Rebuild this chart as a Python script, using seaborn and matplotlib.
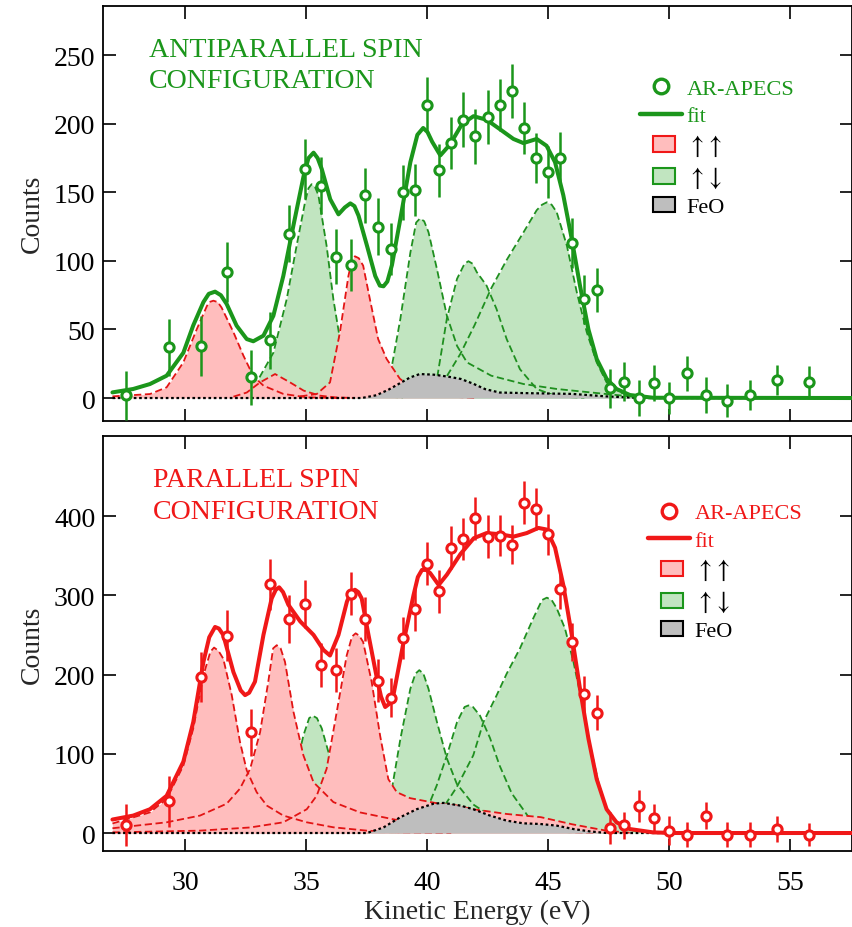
import matplotlib.pyplot as plt
import matplotlib.patches as mpatches
from matplotlib.lines import Line2D
from matplotlib.legend_handler import HandlerPatch
import seaborn as sns

# AR-APECS spectra, antiparallel (top) and parallel (bottom) spin configuration
sns.set_theme(style='ticks')
plt.rcParams['font.family'] = ['Liberation Serif', 'DejaVu Serif']
plt.rcParams['mathtext.fontset'] = 'stix'

# measured points (same energies in both panels)
energy = [27.56, 29.34, 30.66, 31.72, 32.71, 33.50, 34.28, 34.97, 35.62, 36.25,
          36.85, 37.44, 37.98, 38.51, 39.00, 39.52, 40.01, 40.50, 40.98, 41.49,
          42.00, 42.51, 43.00, 43.50, 44.00, 44.49, 44.99, 45.50, 45.99, 46.49,
          47.01, 47.56, 48.13, 48.75, 49.37, 50.00, 50.76, 51.52, 52.38, 53.33,
          54.48, 55.79]
anti_counts = [2, 37, 38, 92, 15, 42, 120, 167, 155, 103,
               97, 148, 125, 109, 150, 152, 214, 166, 186, 203,
               191, 205, 214, 224, 197, 175, 165, 175, 113, 72,
               79, 7, 12, 0, 11, 0, 18, 2, -2, 2,
               13, 12]
anti_err = [18, 21, 22, 22, 20, 21, 21, 22, 21, 20,
            19, 20, 21, 19, 20, 19, 20, 19, 19, 20,
            20, 20, 19, 20, 19, 18, 19, 19, 18, 18,
            16, 14, 14, 13, 13, 12, 13, 13, 12, 11,
            11, 11]
para_counts = [10, 40, 197, 249, 127, 314, 270, 289, 212, 206,
               302, 270, 192, 171, 246, 283, 340, 305, 360, 371,
               397, 374, 375, 364, 417, 409, 377, 308, 241, 175,
               152, 6, 10, 34, 19, 3, -2, 22, -2, -2,
               5, -2]
para_err = [27, 32, 32, 32, 30, 32, 30, 30, 28, 28,
            27, 28, 27, 25, 27, 28, 27, 27, 27, 27,
            27, 27, 26, 25, 27, 26, 26, 25, 24, 23,
            22, 20, 17, 20, 18, 18, 16, 17, 16, 16,
            16, 15]

# fit curves and components as (energy, counts)
anti_fit = [(27.0, 4.1), (27.86, 6.6), (28.55, 10.2), (29.24, 16.3), (29.93, 33), (30.34, 53),
            (30.76, 70), (30.98, 76), (31.24, 77.6), (31.48, 75), (31.72, 68.6), (32.13, 52.8),
            (32.55, 43), (32.82, 41.4), (33.24, 45.5), (33.65, 60), (34.06, 89), (34.48, 126),
            (34.90, 162), (35.1, 175), (35.31, 179), (35.48, 175), (35.65, 167), (36.00, 145),
            (36.34, 134), (36.6, 139), (36.83, 142), (37.0, 140), (37.17, 133), (37.52, 111),
            (37.86, 89), (38.05, 82), (38.20, 81.5), (38.36, 85), (38.55, 97), (38.90, 131),
            (39.31, 172), (39.6, 192), (39.84, 197), (40.02, 194), (40.21, 187), (40.55, 177),
            (40.95, 185), (41.45, 200), (41.92, 205.6), (42.46, 203), (43.02, 196), (43.57, 189),
            (43.98, 186), (44.53, 189), (44.94, 184), (45.29, 172), (45.63, 148), (45.98, 116),
            (46.32, 82), (46.67, 50), (47.01, 28.5), (47.42, 14), (47.83, 6.6), (48.38, 2.2),
            (49.34, 0.2), (57.6, 0)]
anti_uu_1 = [(27.0, 1.2), (28.55, 2.9), (29.24, 7.8), (29.93, 26), (30.48, 50), (30.9, 67),
             (31.0, 70), (31.17, 71), (31.35, 70), (31.51, 66), (32.0, 48), (32.41, 31),
             (32.82, 16), (33.24, 9), (34.06, 3), (35.03, 0.5), (36.5, 0)]
anti_uu_2 = [(32.0, 1), (32.55, 4), (33.1, 11.4), (33.72, 17.5), (34.34, 11.4), (34.9, 5.4),
             (35.58, 1.7), (36.2, 0.5), (37.0, 0)]
anti_uu_3 = [(34.76, 1.2), (35.44, 2.9), (35.99, 11.4), (36.4, 48), (36.75, 89), (36.9, 101),
             (37.02, 103.4), (37.18, 102), (37.36, 96.6), (37.64, 72), (37.98, 43), (38.33, 28.5),
             (38.88, 14), (39.57, 5.4), (40.5, 1.5), (42.0, 0)]
anti_ud_1 = [(32.0, 1.7), (32.96, 11.4), (33.65, 33), (34.2, 72), (34.61, 111), (34.96, 143),
             (35.1, 153), (35.23, 156), (35.37, 154), (35.51, 148), (35.85, 111), (36.13, 72),
             (36.4, 43), (36.83, 18.7), (37.52, 6.6), (38.2, 1.7), (39.0, 0)]
anti_ud_2 = [(36.13, 0.5), (37.52, 2.9), (38.2, 9), (38.55, 23.6), (38.9, 58), (39.31, 106),
             (39.55, 128), (39.71, 131), (39.88, 129), (40.06, 121), (40.41, 94), (40.82, 60),
             (41.24, 38), (41.65, 26), (42.65, 16.3), (43.99, 10.2), (45.36, 6.6), (47.42, 2.9),
             (48.79, 0.5), (50.0, 0)]
anti_ud_3 = [(39.99, 1.7), (40.41, 14), (40.82, 58), (41.24, 87), (41.55, 98), (41.71, 99.8),
             (41.88, 98), (42.05, 92), (42.46, 82), (42.87, 65), (43.29, 43), (43.84, 21),
             (44.53, 6.6), (45.36, 1.2), (46.5, 0)]
anti_ud_4 = [(38.3, 1), (39.7, 6.6), (40.82, 16), (41.37, 32), (41.96, 53), (42.65, 80),
             (43.3, 101), (43.99, 121), (44.53, 137), (44.75, 141), (44.95, 142.8), (45.15, 141),
             (45.36, 135.5), (45.78, 111), (46.19, 77), (46.6, 48), (47.01, 26), (47.42, 11.4),
             (47.97, 4.1), (48.79, 0.5), (50.0, 0)]
anti_feo = [(27.0, 0), (37.3, 0), (37.9, 2), (38.4, 6), (38.9, 11), (39.3, 15), (39.7, 17.5),
            (40.3, 17), (40.9, 15.5), (41.4, 13.9), (41.9, 10.5), (42.4, 6.5), (43.0, 4),
            (44.0, 3.6), (46.0, 3), (47.4, 1.2), (48.8, 0), (57.6, 0)]

para_fit = [(27.0, 17), (27.86, 22), (28.55, 30), (29.24, 47), (29.93, 90), (30.34, 140),
            (30.76, 216), (31.0, 247), (31.24, 260), (31.4, 258), (31.58, 250), (32.0, 203),
            (32.3, 180), (32.48, 174), (32.65, 177), (32.89, 191), (33.24, 250), (33.58, 296),
            (33.75, 307), (33.89, 310), (34.05, 304), (34.27, 288), (34.76, 267), (35.31, 250),
            (35.72, 231), (35.99, 224), (36.34, 250), (36.69, 292), (36.85, 303), (37.02, 307),
            (37.16, 304), (37.30, 296), (37.58, 250), (37.93, 195), (38.1, 172), (38.27, 159),
            (38.44, 163), (38.61, 174), (39.03, 241), (39.44, 300), (39.62, 323), (39.79, 332),
            (39.97, 332), (40.13, 328), (40.48, 313), (40.82, 326), (41.38, 352), (41.93, 372),
            (42.46, 378.5), (43.02, 377), (43.57, 374), (44.12, 378.5), (44.6, 385), (44.94, 383),
            (45.29, 360), (45.63, 313), (45.98, 250), (46.32, 182), (46.67, 119), (47.01, 68),
            (47.42, 30), (47.83, 13.5), (48.38, 5), (49.34, 0.8), (50.17, 0), (57.6, 0)]
para_uu_1 = [(27.0, 12), (28.55, 26), (29.24, 43), (29.93, 85), (30.34, 132), (30.76, 199),
             (31.05, 229), (31.2, 234), (31.38, 230), (31.58, 220), (31.93, 174), (32.27, 115),
             (32.55, 79), (32.96, 51.5), (33.38, 34.6), (34.06, 22), (35.03, 13.5), (36.13, 7.2),
             (37.5, 3), (38.9, 0.8), (41.0, 0)]
para_uu_2 = [(27.0, 6), (29.24, 13.5), (30.62, 22), (31.72, 37), (32.27, 56), (32.69, 81),
             (33.1, 127), (33.44, 191), (33.64, 233), (33.79, 237), (33.95, 233), (34.13, 216),
             (34.48, 153), (34.89, 98), (35.31, 64), (36.13, 39), (37.23, 26), (38.88, 15.6),
             (40.95, 9.3), (43.0, 5), (45.0, 2), (47.0, 0)]
para_uu_3 = [(27.0, 0.8), (30.62, 3), (32.69, 7), (34.06, 13.5), (35.03, 30), (35.44, 47),
             (35.85, 81), (36.27, 153), (36.68, 224), (36.9, 248), (37.05, 252), (37.2, 249),
             (37.36, 241), (37.71, 191), (38.06, 123), (38.4, 68), (38.75, 51.5), (39.3, 44),
             (40.5, 37), (41.2, 35), (41.9, 30), (43.3, 24), (44.7, 20), (46.0, 11), (46.7, 7),
             (47.4, 3), (48.5, 0)]
para_ud_1 = [(32.69, 3), (33.38, 9.3), (34.2, 39), (34.61, 85), (34.89, 123), (35.13, 145),
             (35.28, 148), (35.45, 145), (35.65, 132), (36.0, 94), (36.27, 56), (36.68, 26),
             (37.23, 9.3), (37.9, 0.8), (39.0, 0)]
para_ud_2 = [(37.0, 0), (37.52, 3), (38.2, 13.5), (38.55, 56), (38.9, 119), (39.31, 182),
             (39.52, 201), (39.68, 205.5), (39.85, 201), (40.06, 182), (40.41, 140), (40.82, 94),
             (41.23, 62), (41.91, 36), (42.6, 22), (44.0, 10), (46.0, 3), (48.0, 0)]
para_ud_3 = [(38.5, 0), (39.0, 4), (39.5, 12), (40.0, 30), (40.4, 60), (40.82, 98), (41.24, 140),
             (41.55, 159), (41.71, 161), (41.9, 159), (42.19, 148), (42.6, 120), (43.0, 85),
             (43.5, 50), (44.2, 20), (45.0, 5), (46.0, 0)]
para_ud_4 = [(37.5, 0), (38.2, 3), (39.57, 9.3), (40.54, 26), (41.23, 58), (41.91, 98),
             (42.33, 140), (42.88, 174), (43.29, 201), (43.84, 233), (44.39, 271), (44.75, 294),
             (44.95, 297), (45.15, 294), (45.36, 283.5), (45.7, 258), (46.05, 216), (46.4, 165),
             (46.74, 110.5), (47.08, 64), (47.42, 30), (47.83, 13.5), (48.52, 3), (49.48, 0),
             (51.0, 0)]
para_feo = [(27.0, 0), (37.52, 0), (38.2, 7), (38.9, 20), (39.57, 30), (40.27, 37), (40.68, 38),
            (41.38, 34.6), (41.91, 30), (42.6, 22), (43.29, 15.6), (43.98, 12.2), (44.67, 11.4),
            (45.36, 9.3), (46.05, 5), (46.74, 2), (47.42, 0), (57.6, 0)]

legend_labels = ['AR-APECS', 'fit', r'$\uparrow\!\uparrow$', r'$\uparrow\!\downarrow$', 'FeO']

GREEN = '#1b961b'
RED = '#f01818'
GREEN_FILL = '#c1e5c0'
RED_FILL = '#ffbdbd'
GREY_FILL = '#bebebe'
GREEN_DASH = '#1f8f1f'
RED_DASH = '#e21414'


def unzip(pts):
    return [p[0] for p in pts], [p[1] for p in pts]


def small_box(legend, orig_handle, xdescent, ydescent, width, height, fontsize):
    return mpatches.Rectangle((-xdescent + 0.31 * width, -ydescent), 0.52 * width, height)


def draw_panel(ax, color, counts, err, fit, uu, ud, feo, title, ylim, yticks, leg_xy, title_xy):
    dash = (0, (4, 2))
    for curve in ud:
        x, y = unzip(curve)
        ax.fill_between(x, y, 0, color=GREEN_FILL, lw=0, zorder=1)
    for curve in ud:
        x, y = unzip(curve)
        sns.lineplot(x=x, y=y, ax=ax, color=GREEN_DASH, lw=1.3, linestyle=dash,
                     estimator=None, sort=False, zorder=2)
    for curve in uu:
        x, y = unzip(curve)
        ax.fill_between(x, y, 0, color=RED_FILL, lw=0, zorder=3)
    for curve in uu:
        x, y = unzip(curve)
        sns.lineplot(x=x, y=y, ax=ax, color=RED_DASH, lw=1.3, linestyle=dash,
                     estimator=None, sort=False, zorder=4)
    x, y = unzip(feo)
    ax.fill_between(x, y, 0, color=GREY_FILL, lw=0, zorder=5)
    sns.lineplot(x=x, y=y, ax=ax, color='black', lw=1.6, linestyle=(0, (1.2, 1.2)),
                 estimator=None, sort=False, zorder=6)

    x, y = unzip(fit)
    sns.lineplot(x=x, y=y, ax=ax, color=color, lw=2.9, estimator=None, sort=False, zorder=7)

    ax.errorbar(energy, counts, yerr=err, fmt='none', ecolor=color, elinewidth=1.8,
                capsize=0, zorder=8)
    sns.scatterplot(x=energy, y=counts, ax=ax, s=44, marker='o', facecolor='white',
                    edgecolor=color, linewidth=2.2, zorder=9)

    handles = [
        Line2D([], [], ls='none', marker='o', ms=10.5, mfc='white', mec=color, mew=2.4),
        Line2D([], [], color=color, lw=3.2),
        mpatches.Patch(fc=RED_FILL, ec=RED, lw=1.5),
        mpatches.Patch(fc=GREEN_FILL, ec=GREEN, lw=1.5),
        mpatches.Patch(fc=GREY_FILL, ec='black', lw=1.5),
    ]
    leg = ax.legend(handles, legend_labels, loc='upper left', bbox_to_anchor=leg_xy,
                    frameon=False, fontsize=16, borderpad=0, borderaxespad=0,
                    handlelength=1.9, handletextpad=0.2, labelspacing=0.3,
                    handler_map={mpatches.Patch: HandlerPatch(patch_func=small_box)})
    for i, (txt, c) in enumerate(zip(leg.get_texts(), [color, color, 'black', 'black', 'black'])):
        txt.set_color(c)
        if i in (2, 3):
            txt.set_fontsize(18.5)

    tx, ty1, ty2 = title_xy
    ax.text(tx, ty1, title[0], transform=ax.transAxes, color=color, fontsize=20.2)
    ax.text(tx, ty2, title[1], transform=ax.transAxes, color=color, fontsize=20.2)

    ax.set_xlim(26.61, 57.56)
    ax.set_ylim(*ylim)
    ax.set_yticks(yticks)
    ax.set_xticks([30, 35, 40, 45, 50, 55])
    ax.tick_params(direction='in', length=9, width=1.2, top=True, right=True,
                   labelsize=20, colors='black')
    ax.tick_params(axis='y', pad=5.5)
    ax.tick_params(axis='x', pad=13.5)
    for sp in ax.spines.values():
        sp.set_linewidth(1.3)
        sp.set_color('black')
    ax.set_ylabel('Counts', fontsize=20)
    ax.yaxis.set_label_coords(-0.078, 0.5)


fig = plt.figure(figsize=(8.52, 9.28), dpi=100)
ax_top = fig.add_axes([103 / 852, 1 - 421.5 / 928, 749 / 852, 414.5 / 928])
ax_bot = fig.add_axes([103 / 852, 1 - 852 / 928, 749 / 852, 415 / 928])

draw_panel(ax_top, GREEN, anti_counts, anti_err, anti_fit,
           [anti_uu_1, anti_uu_2, anti_uu_3], [anti_ud_1, anti_ud_2, anti_ud_3, anti_ud_4],
           anti_feo, ['ANTIPARALLEL SPIN', 'CONFIGURATION'], (-16.4, 286),
           [0, 50, 100, 150, 200, 250], (0.717, 0.825), (0.0614, 0.879, 0.8046))
draw_panel(ax_bot, RED, para_counts, para_err, para_fit,
           [para_uu_1, para_uu_2, para_uu_3], [para_ud_1, para_ud_2, para_ud_3, para_ud_4],
           para_feo, ['PARALLEL SPIN', 'CONFIGURATION'], (-22.7, 501),
           [0, 100, 200, 300, 400], (0.7276, 0.839), (0.0668, 0.8795, 0.8024))

ax_top.tick_params(axis='x', labelbottom=False)
ax_top.set_xlabel('')
ax_bot.set_xlabel('Kinetic Energy (eV)', fontsize=20)
ax_bot.xaxis.set_label_coords(0.5, -0.116)

fig.savefig('out.png', dpi=100)
